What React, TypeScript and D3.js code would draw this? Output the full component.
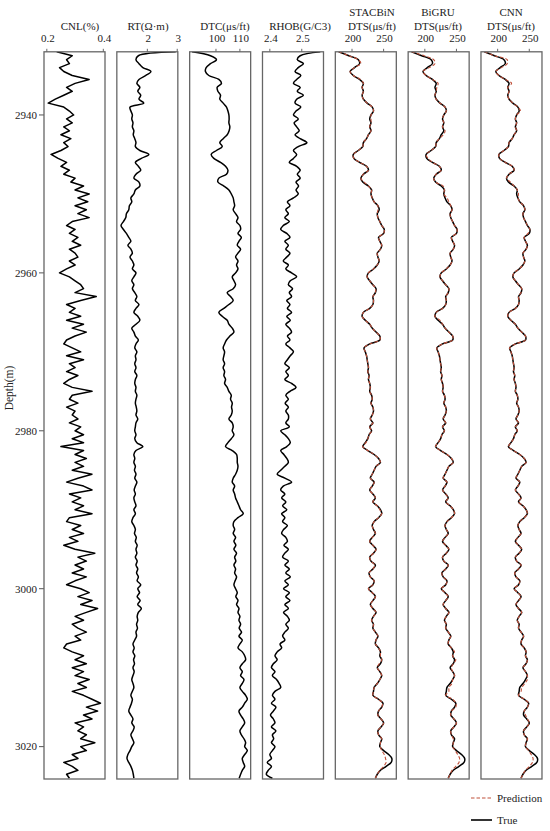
import React, { useEffect } from "react";
import * as d3 from "d3";

// Depth sampling grid (m)
const DEPTH_START = 2932;
const DEPTH_STEP = 0.5;
const depthTicks = [2940, 2960, 2980, 3000, 3020];

const CNL = [
  0.235, 0.29, 0.27, 0.28, 0.245, 0.26, 0.29, 0.35, 0.30, 0.27,
  0.29, 0.26, 0.23, 0.205, 0.26, 0.28, 0.295, 0.27, 0.29, 0.26,
  0.28, 0.25, 0.285, 0.26, 0.275, 0.25, 0.215, 0.24, 0.27, 0.25,
  0.28, 0.26, 0.30, 0.285, 0.33, 0.30, 0.35, 0.31, 0.345, 0.30,
  0.34, 0.31, 0.35, 0.29, 0.27, 0.30, 0.28, 0.31, 0.29, 0.32,
  0.28, 0.30, 0.31, 0.28, 0.30, 0.27, 0.245, 0.28, 0.30, 0.32,
  0.33, 0.30, 0.375, 0.32, 0.27, 0.30, 0.28, 0.32, 0.27, 0.33,
  0.29, 0.34, 0.30, 0.27, 0.26, 0.29, 0.32, 0.27, 0.33, 0.28,
  0.30, 0.27, 0.31, 0.28, 0.26, 0.29, 0.36, 0.29, 0.28, 0.31,
  0.27, 0.30, 0.29,
  0.31, 0.28, 0.32, 0.30, 0.33, 0.29, 0.33, 0.25, 0.33, 0.30,
  0.34, 0.30, 0.33, 0.29, 0.36, 0.31, 0.27, 0.33, 0.36, 0.28,
  0.32, 0.29, 0.33, 0.30, 0.36, 0.28, 0.27, 0.32, 0.29, 0.33,
  0.28, 0.31, 0.26, 0.30, 0.37, 0.31, 0.34, 0.30, 0.33, 0.29,
  0.34, 0.30, 0.27, 0.32, 0.35, 0.31, 0.36, 0.32, 0.38, 0.34,
  0.30, 0.33, 0.29, 0.31, 0.34, 0.30, 0.32, 0.27, 0.26, 0.29,
  0.33, 0.30, 0.34, 0.29, 0.33, 0.30, 0.35, 0.31, 0.34, 0.29,
  0.33, 0.36, 0.39, 0.34, 0.38, 0.33, 0.36, 0.30, 0.33, 0.31,
  0.34, 0.32, 0.37, 0.32, 0.34, 0.29, 0.31, 0.26, 0.29, 0.31,
  0.27, 0.28,
];

const RT = [
  2.95, 1.70, 1.62, 1.72, 1.85, 2.12, 1.95, 1.72, 1.65, 1.75,
  1.68, 1.78, 1.72, 1.88, 1.42, 1.45, 1.50, 1.48, 1.52, 1.50,
  1.55, 1.53, 1.58, 1.62, 1.60, 1.75, 2.05, 1.80, 1.60, 1.70,
  1.78, 1.62, 1.55, 1.72, 1.75, 1.60, 1.55, 1.45, 1.48, 1.40,
  1.38, 1.30, 1.28, 1.20, 1.12, 1.20, 1.30, 1.38, 1.45, 1.35,
  1.45, 1.50, 1.42, 1.50, 1.55, 1.50, 1.62, 1.55, 1.48, 1.55,
  1.50, 1.58, 1.65, 1.60, 1.72, 1.62, 1.55, 1.68, 1.75, 1.62,
  1.48, 1.55, 1.60, 1.70, 1.62, 1.58, 1.65, 1.60, 1.62, 1.58,
  1.62, 1.58, 1.65, 1.60, 1.58, 1.62, 1.60, 1.65, 1.62, 1.60,
  1.63, 1.65, 1.62,
  1.68, 1.62, 1.60, 1.58, 1.62, 1.58, 1.65, 1.85, 1.62, 1.55,
  1.58, 1.55, 1.60, 1.57, 1.62, 1.58, 1.65, 1.60, 1.56, 1.60,
  1.55, 1.58, 1.62, 1.55, 1.60, 1.52, 1.48, 1.55, 1.60, 1.57,
  1.63, 1.60, 1.66, 1.62, 1.65, 1.60, 1.66, 1.62, 1.68, 1.64,
  1.70, 1.66, 1.78, 1.68, 1.74, 1.66, 1.76, 1.68, 1.80, 1.70,
  1.66, 1.68, 1.64, 1.67, 1.62, 1.64, 1.58, 1.52, 1.56, 1.52,
  1.58, 1.54, 1.57, 1.52, 1.56, 1.52, 1.48, 1.52, 1.55, 1.50,
  1.45, 1.50, 1.47, 1.42, 1.38, 1.45, 1.52, 1.48, 1.56, 1.52,
  1.45, 1.50, 1.55, 1.48, 1.42, 1.35, 1.32, 1.38, 1.45, 1.50,
  1.53, 1.55,
];

const DTC = [
  90.0, 97.7, 100.2, 97.7, 95.9, 95.6, 97.0, 101.2, 102.3, 100.5,
  100.8, 101.9, 101.6, 103.0, 104.4, 105.0, 105.4, 105.5, 105.4, 105.8,
  105.5, 104.7, 103.0, 101.6, 102.6, 100.2, 98.0, 99.1, 101.9, 104.0,
  105.0, 104.4, 101.2, 100.8, 103.3, 105.4, 106.4, 107.2, 107.5, 107.8,
  107.2, 108.2, 109.2, 108.6, 110.0, 110.3, 109.2, 110.6, 109.6, 108.9,
  110.3, 109.2, 108.2, 109.2, 108.6, 109.2, 108.2, 106.8, 107.5, 108.2,
  107.2, 104.7, 106.1, 107.2, 105.4, 103.3, 101.2, 102.6, 104.7, 105.4,
  106.8, 107.5, 105.8, 104.4, 103.6, 103.0, 103.6, 103.3, 103.0, 103.6,
  103.0, 103.6, 103.3, 104.0, 103.6, 104.7, 105.4, 106.4, 106.1, 106.8,
  106.5, 106.8, 106.4,
  105.4, 106.8, 107.2, 106.8, 107.5, 106.4, 105.0, 104.0, 106.8, 108.6,
  108.9, 108.9, 109.2, 108.9, 108.2, 107.2, 106.8, 107.8, 107.2, 107.8,
  108.2, 108.9, 109.6, 110.3, 111.4, 109.2, 107.5, 107.2, 107.8, 107.2,
  108.2, 107.5, 108.3, 107.5, 108.6, 107.8, 108.3, 107.5, 108.2, 107.8,
  108.6, 108.0, 107.5, 108.2, 108.9, 108.3, 109.2, 108.6, 109.6, 109.2,
  110.0, 109.6, 110.3, 109.7, 110.7, 109.6, 111.0, 110.0, 109.2, 111.0,
  112.0, 112.4, 111.0, 110.0, 111.0, 110.3, 111.7, 111.0, 110.0, 111.0,
  112.4, 113.1, 112.0, 111.0, 109.6, 110.3, 111.4, 112.0, 111.0, 110.0,
  110.6, 111.7, 112.4, 112.0, 113.1, 112.0, 111.0, 111.4, 112.0, 111.0,
  110.3, 109.7,
];

const RHOB = [
  2.558, 2.495, 2.486, 2.505, 2.489, 2.479, 2.497, 2.484, 2.474, 2.495,
  2.486, 2.505, 2.484, 2.479, 2.497, 2.482, 2.474, 2.489, 2.476, 2.484,
  2.492, 2.479, 2.495, 2.516, 2.489, 2.474, 2.484, 2.474, 2.461, 2.484,
  2.495, 2.486, 2.495, 2.482, 2.490, 2.482, 2.489, 2.474, 2.455, 2.463,
  2.450, 2.458, 2.447, 2.461, 2.442, 2.434, 2.453, 2.463, 2.447, 2.458,
  2.450, 2.463, 2.453, 2.442, 2.458, 2.450, 2.468, 2.484, 2.464, 2.458,
  2.471, 2.461, 2.468, 2.453, 2.463, 2.455, 2.468, 2.453, 2.464, 2.450,
  2.461, 2.468, 2.455, 2.463, 2.450, 2.463, 2.474, 2.464, 2.455, 2.447,
  2.461, 2.450, 2.458, 2.447, 2.468, 2.482, 2.463, 2.450, 2.458, 2.448,
  2.458, 2.450, 2.458,
  2.458, 2.450, 2.461, 2.434, 2.447, 2.458, 2.464, 2.453, 2.434, 2.444,
  2.453, 2.458, 2.447, 2.434, 2.423, 2.447, 2.468, 2.442, 2.434, 2.447,
  2.437, 2.450, 2.440, 2.453, 2.437, 2.447, 2.440, 2.455, 2.443, 2.437,
  2.450, 2.455, 2.444, 2.458, 2.447, 2.440, 2.458, 2.447, 2.461, 2.450,
  2.464, 2.447, 2.458, 2.443, 2.461, 2.450, 2.463, 2.447, 2.458, 2.443,
  2.455, 2.461, 2.450, 2.458, 2.447, 2.440, 2.447, 2.432, 2.437, 2.423,
  2.416, 2.423, 2.411, 2.405, 2.416, 2.408, 2.421, 2.429, 2.434, 2.416,
  2.408, 2.416, 2.405, 2.419, 2.411, 2.402, 2.411, 2.416, 2.405, 2.419,
  2.408, 2.412, 2.405, 2.416, 2.408, 2.400, 2.405, 2.392, 2.405, 2.395,
  2.389, 2.408,
];

const DTS_TRUE = [
  179, 195, 210, 212, 204, 197, 202, 212, 218, 216,
  218, 216, 218, 224, 232, 234, 230, 228, 230, 228,
  230, 226, 223, 218, 217, 210, 202, 203, 212, 223,
  226, 218, 214, 217, 226, 231, 230, 232, 235, 241,
  243, 240, 241, 244, 247, 251, 250, 242, 244, 247,
  245, 240, 241, 243, 240, 234, 226, 224, 228, 233,
  238, 237, 233, 234, 233, 228, 218, 216, 221, 228,
  232, 238, 244, 244, 228, 219, 221, 223, 224, 225,
  226, 225, 227, 226, 228, 229, 228, 231, 232, 230,
  233, 234, 232, 229, 233, 228, 231, 227, 225, 221,
  217, 225, 235, 242, 245, 238, 235, 232, 229, 235,
  232, 228, 233, 237, 233, 240, 245, 247, 242, 235,
  232, 234, 237, 232, 228, 233, 238, 234, 228, 230,
  237, 233, 227, 229, 235, 233, 226, 232, 237, 233,
  229, 233, 238, 234, 231, 234, 233, 237, 241, 238,
  237, 242, 245, 244, 247, 245, 240, 244, 247, 244,
  240, 235, 234, 233, 242, 249, 247, 242, 241, 246,
  250, 246, 241, 242, 247, 245, 244, 250, 258, 263,
  262, 254, 245, 240, 237,
];

const DTS_STACBIN = [
  179, 195, 210, 214, 204, 197, 202, 213, 218, 216,
  218, 216, 218, 224, 232, 234, 230, 230, 230, 228,
  230, 226, 223, 218, 217, 210, 202, 203, 212, 223,
  226, 218, 214, 219, 226, 231, 230, 232, 235, 241,
  241, 240, 241, 244, 247, 251, 250, 242, 244, 247,
  245, 240, 241, 243, 240, 234, 226, 224, 228, 233,
  237, 237, 233, 234, 233, 228, 218, 216, 221, 228,
  232, 238, 244, 244, 228, 219, 221, 223, 224, 225,
  226, 225, 227, 226, 228, 229, 228, 231, 232, 230,
  233, 234, 232, 229, 233, 228, 231, 227, 225, 222,
  217, 225, 235, 242, 245, 238, 235, 232, 229, 235,
  232, 228, 233, 237, 233, 240, 244, 247, 242, 235,
  232, 234, 237, 232, 228, 233, 238, 234, 228, 230,
  236, 233, 227, 229, 235, 233, 226, 232, 237, 233,
  229, 233, 238, 234, 231, 234, 233, 237, 241, 238,
  237, 242, 245, 245, 247, 243, 240, 244, 247, 244,
  240, 235, 234, 233, 242, 248, 247, 242, 241, 246,
  250, 246, 241, 242, 247, 245, 245, 247, 251, 253,
  254, 250, 244, 240, 237,
];

const DTS_BIGRU = [
  179, 199, 214, 216, 207, 197, 202, 212, 221, 219,
  218, 216, 218, 224, 232, 234, 230, 228, 230, 228,
  232, 229, 223, 218, 217, 210, 202, 205, 212, 223,
  226, 218, 214, 217, 229, 231, 230, 235, 238, 241,
  243, 240, 241, 244, 247, 251, 250, 242, 244, 247,
  245, 240, 241, 243, 240, 234, 226, 224, 228, 233,
  238, 237, 233, 234, 233, 228, 218, 216, 224, 228,
  232, 238, 244, 244, 228, 219, 221, 223, 224, 225,
  226, 225, 227, 226, 228, 229, 228, 231, 232, 230,
  233, 234, 232, 229, 233, 228, 231, 227, 225, 221,
  217, 225, 235, 242, 245, 238, 235, 232, 229, 235,
  232, 228, 233, 237, 233, 240, 245, 247, 242, 235,
  232, 234, 237, 232, 228, 233, 238, 234, 228, 230,
  237, 233, 227, 229, 235, 233, 226, 232, 237, 233,
  229, 233, 238, 234, 231, 234, 233, 237, 241, 238,
  237, 242, 247, 244, 249, 245, 242, 244, 247, 244,
  243, 238, 238, 233, 244, 249, 249, 242, 241, 246,
  250, 246, 241, 242, 245, 245, 244, 248, 252, 255,
  254, 249, 243, 240, 237,
];

const DTS_CNN = [
  179, 195, 215, 215, 206, 197, 202, 212, 222, 216,
  218, 216, 218, 224, 232, 236, 230, 228, 230, 228,
  230, 226, 223, 218, 217, 210, 202, 203, 212, 223,
  226, 218, 214, 220, 226, 231, 233, 232, 235, 241,
  243, 240, 241, 244, 247, 251, 248, 242, 244, 247,
  245, 240, 241, 243, 240, 234, 226, 224, 228, 233,
  238, 237, 233, 234, 233, 228, 218, 216, 221, 228,
  232, 238, 244, 244, 228, 219, 221, 223, 224, 225,
  226, 225, 227, 226, 228, 229, 228, 231, 232, 230,
  233, 234, 232, 229, 233, 228, 231, 227, 225, 221,
  217, 225, 235, 242, 245, 238, 235, 232, 229, 235,
  232, 228, 233, 237, 233, 240, 245, 247, 242, 235,
  232, 234, 237, 232, 228, 233, 238, 234, 228, 230,
  237, 233, 227, 229, 235, 233, 226, 232, 237, 233,
  229, 233, 238, 234, 231, 234, 233, 237, 241, 238,
  237, 242, 245, 244, 247, 245, 240, 244, 247, 247,
  243, 238, 237, 233, 242, 249, 247, 242, 244, 247,
  250, 246, 241, 242, 247, 245, 244, 249, 253, 256,
  255, 250, 244, 240, 237,
];

const legendLabels = ["Prediction", "True"];

const FONT = "'Liberation Serif', 'Times New Roman', serif";
const PRED_COLOR = "#c0503a";

type Track = {
  title: string[];
  titleX: number;
  domain: [number, number];
  ticks: number[];
  fmt: (v: number) => string;
  truth: number[];
  pred?: number[];
  linear?: boolean;
};

const tracks: Track[] = [
  { title: ["CNL(%)"], titleX: 80, domain: [0.19, 0.406], ticks: [0.2, 0.4], fmt: (v) => v.toFixed(1), truth: CNL, linear: true },
  { title: ["RT(\u03A9\u00B7m)"], titleX: 148, domain: [0.98, 3.02], ticks: [2, 3], fmt: (v) => String(v), truth: RT },
  { title: ["DTC(\u03BCs/ft)"], titleX: 225, domain: [89, 114.5], ticks: [100, 110], fmt: (v) => String(v), truth: DTC },
  { title: ["RHOB(G/C3)"], titleX: 300, domain: [2.377, 2.568], ticks: [2.4, 2.5], fmt: (v) => v.toFixed(1), truth: RHOB },
  { title: ["STACBiN", "DTS(\u03BCs/ft)"], titleX: 372, domain: [173.6, 270.1], ticks: [200, 250], fmt: (v) => String(v), truth: DTS_TRUE, pred: DTS_STACBIN },
  { title: ["BiGRU", "DTS(\u03BCs/ft)"], titleX: 438, domain: [173.6, 270.1], ticks: [200, 250], fmt: (v) => String(v), truth: DTS_TRUE, pred: DTS_BIGRU },
  { title: ["CNN", "DTS(\u03BCs/ft)"], titleX: 511, domain: [173.6, 270.1], ticks: [200, 250], fmt: (v) => String(v), truth: DTS_TRUE, pred: DTS_CNN },
];

const TRACK_LEFT = 44;
const TRACK_STEP = 72.83;
const TRACK_W = 61;
const TOP = 51.8;
const BOTTOM = 779;

export default function App() {
  useEffect(() => {
    document.body.style.margin = "0";
  }, []);

  const y = d3.scaleLinear().domain([2932, 3024.1]).range([TOP, BOTTOM]);
  const depthOf = (i: number) => DEPTH_START + i * DEPTH_STEP;

  return (
    <svg width={550} height={831} style={{ display: "block", background: "#fff" }} fontFamily={FONT}>
      {/* depth axis */}
      {depthTicks.map((d) => (
        <g key={d}>
          <line x1={TRACK_LEFT - 5} x2={TRACK_LEFT} y1={y(d)} y2={y(d)} stroke="#555" strokeWidth={1} />
          <text x={TRACK_LEFT - 7} y={y(d)} dy="0.35em" textAnchor="end" fontSize={11} fill="#222">
            {d}
          </text>
        </g>
      ))}
      <text
        transform={`translate(13, ${388}) rotate(-90)`}
        textAnchor="middle"
        fontSize={11.5}
        fill="#222"
      >
        Depth(m)
      </text>

      {tracks.map((t, ti) => {
        const left = TRACK_LEFT + ti * TRACK_STEP;
        const x = d3.scaleLinear().domain(t.domain).range([left, left + TRACK_W]);
        const mk = (arr: number[]) =>
          d3
            .line<number>()
            .x((v) => x(v))
            .y((_, i) => y(depthOf(i)))
            .curve(t.linear ? d3.curveLinear : d3.curveCatmullRom.alpha(0.5))(arr) || "";
        const clipId = `clip${ti}`;
        return (
          <g key={ti}>
            <clipPath id={clipId}>
              <rect x={left} y={TOP} width={TRACK_W} height={BOTTOM - TOP} />
            </clipPath>
            <g clipPath={`url(#${clipId})`}>
              <path d={mk(t.truth)} fill="none" stroke="#000" strokeWidth={1.5} strokeLinejoin="round" />
              {t.pred && (
                <path d={mk(t.pred)} fill="none" stroke={PRED_COLOR} strokeWidth={1.1} strokeDasharray="3.5,2" />
              )}
            </g>
            <rect x={left} y={TOP} width={TRACK_W} height={BOTTOM - TOP} fill="none" stroke="#666" strokeWidth={1.3} />
            {t.ticks.map((tv) => (
              <g key={tv}>
                <line x1={x(tv)} x2={x(tv)} y1={TOP} y2={TOP - 3} stroke="#666" strokeWidth={1} />
                <text x={x(tv) + 1} y={42} textAnchor="middle" fontSize={11} fill="#222">
                  {t.fmt(tv)}
                </text>
              </g>
            ))}
            {t.title.length === 1 ? (
              <text x={t.titleX} y={29.5} textAnchor="middle" fontSize={11} fill="#222">
                {t.title[0]}
              </text>
            ) : (
              <>
                <text x={t.titleX} y={15.5} textAnchor="middle" fontSize={11} fill="#222">
                  {t.title[0]}
                </text>
                <text x={t.titleX} y={29.5} textAnchor="middle" fontSize={11} fill="#222">
                  {t.title[1]}
                </text>
              </>
            )}
          </g>
        );
      })}

      {/* legend */}
      <g>
        <line x1={471} x2={492} y1={798} y2={798} stroke={PRED_COLOR} strokeWidth={1.2} strokeDasharray="3.5,2" />
        <text x={497} y={798} dy="0.35em" fontSize={11} fill="#222">
          {legendLabels[0]}
        </text>
        <line x1={471} x2={492} y1={820} y2={820} stroke="#000" strokeWidth={1.6} />
        <text x={497} y={820} dy="0.35em" fontSize={11} fill="#222">
          {legendLabels[1]}
        </text>
      </g>
    </svg>
  );
}
